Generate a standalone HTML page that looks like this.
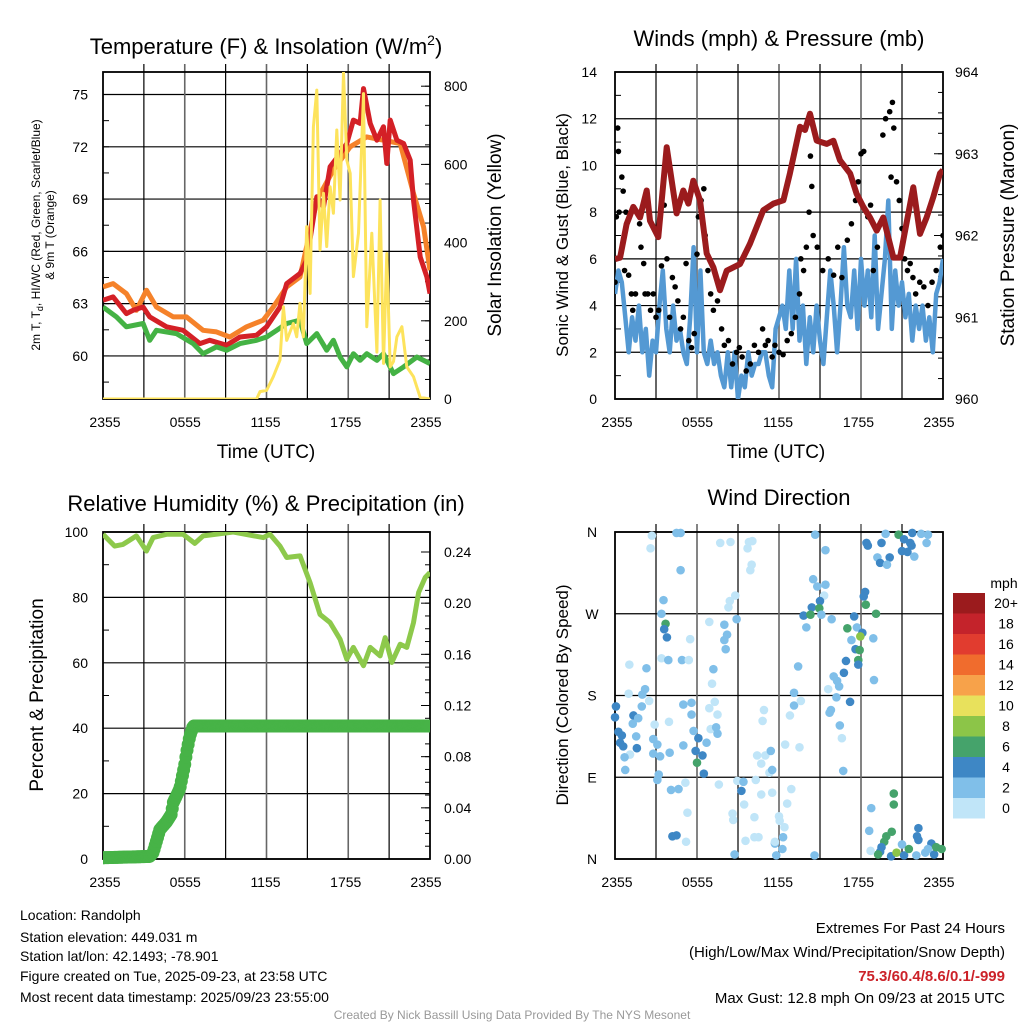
<!DOCTYPE html>
<html><head><meta charset="utf-8"><style>
html,body{margin:0;padding:0;background:#fff}
svg{display:block;font-family:"Liberation Sans",sans-serif}
</style></head><body>
<svg id="chart" width="1024" height="1024" viewBox="0 0 1024 1024" xmlns="http://www.w3.org/2000/svg">
<defs>
<clipPath id="c1"><rect x="103" y="72" width="327" height="327"/></clipPath>
<clipPath id="c2"><rect x="615" y="72" width="328" height="327"/></clipPath>
<clipPath id="c3"><rect x="103" y="532" width="327" height="340"/></clipPath>
<clipPath id="c4"><rect x="608" y="525" width="342" height="341"/></clipPath>
</defs>
<g id="g1"></g>
<g id="g2"></g>
<g id="g3"></g>
<g id="g4"></g>

<text x="266" y="54" font-size="22" text-anchor="middle">Temperature (F) &amp; Insolation (W/m<tspan dy="-9" font-size="14">2</tspan><tspan dy="9">)</tspan></text>
<text x="779" y="46" font-size="22" text-anchor="middle">Winds (mph) &amp; Pressure (mb)</text>
<text x="266" y="511" font-size="22" text-anchor="middle">Relative Humidity (%) &amp; Precipitation (in)</text>
<text x="779" y="505" font-size="22" text-anchor="middle">Wind Direction</text>

<text x="266" y="458" font-size="19" text-anchor="middle">Time (UTC)</text>
<text x="776" y="458" font-size="19" text-anchor="middle">Time (UTC)</text>

<text transform="translate(40,235) rotate(-90)" font-size="12" text-anchor="middle">2m T, T<tspan font-size="9" dy="3">d</tspan><tspan dy="-3">, HI/WC (Red, Green, Scarlet/Blue)</tspan></text>
<text transform="translate(54,235) rotate(-90)" font-size="12" text-anchor="middle">&amp; 9m T (Orange)</text>
<text transform="translate(501,235) rotate(-90)" font-size="19" text-anchor="middle">Solar Insolation (Yellow)</text>
<text transform="translate(568,235) rotate(-90)" font-size="17" text-anchor="middle">Sonic Wind &amp; Gust (Blue, Black)</text>
<text transform="translate(1014,235) rotate(-90)" font-size="19" text-anchor="middle">Station Pressure (Maroon)</text>
<text transform="translate(43,695) rotate(-90)" font-size="19" text-anchor="middle">Percent &amp; Precipitation</text>
<text transform="translate(568,695) rotate(-90)" font-size="17" text-anchor="middle">Direction (Colored By Speed)</text>

<g font-size="14">
<text x="20" y="920">Location: Randolph</text>
<text x="20" y="942">Station elevation: 449.031 m</text>
<text x="20" y="961">Station lat/lon: 42.1493; -78.901</text>
<text x="20" y="981">Figure created on Tue, 2025-09-23, at 23:58 UTC</text>
<text x="20" y="1002">Most recent data timestamp: 2025/09/23 23:55:00</text>
</g>
<g font-size="15" text-anchor="end">
<text x="1005" y="933">Extremes For Past 24 Hours</text>
<text x="1005" y="957">(High/Low/Max Wind/Precipitation/Snow Depth)</text>
<text x="1005" y="981" fill="#cc2229" font-weight="bold">75.3/60.4/8.6/0.1/-999</text>
<text x="1005" y="1003">Max Gust: 12.8 mph On 09/23 at 2015 UTC</text>
</g>
<text x="512" y="1019" font-size="12" fill="#999" text-anchor="middle">Created By Nick Bassill Using Data Provided By The NYS Mesonet</text>
</svg>
<script>
// ---------- Panel 1 data ----------
const redHours=[0,0.74,1.72,2.21,2.94,3.43,4.66,5.88,7.11,7.84,9.07,10.05,11.27,12.01,12.99,13.48,14.46,14.95,15.69,16.18,16.67,17.4,17.89,18.38,18.87,19.12,19.61,20.1,20.59,20.83,21.08,21.57,22.06,22.55,22.79,23.28,23.77,24];
const redTemp=[63.2,63.39,62.43,62.62,62.81,62.24,61.67,61.47,60.71,60.9,60.61,61.09,61.19,61.67,62.81,64.15,64.73,65.49,69.13,68.55,70.85,71.61,72.19,73.53,73.34,75.34,73.34,72.38,73.15,71.04,73.53,72.38,72.19,71.23,68.94,65.68,64.53,63.58];
const orangeHours=[0,0.74,1.72,2.45,3.19,3.92,5.15,6.13,7.35,8.33,9.31,10.54,11.76,12.5,13.48,14.46,15.69,16.91,18.14,19.36,20.59,21.81,22.79,23.53,24];
const orangeTemp=[63.96,64.15,63.58,62.62,63.77,62.81,62.24,62.24,61.47,61.38,61.09,61.67,62.05,62.81,63.96,64.53,68.94,70.66,72,72.57,72.38,72.19,69.32,67.4,64.92];
const greenHours=[0,0.98,1.72,2.94,3.43,3.92,5.39,6.62,7.35,8.33,9.07,10.05,11.27,12.01,12.75,13.48,14.46,14.95,15.69,16.42,16.91,17.4,17.89,18.38,18.87,19.36,20.1,20.59,21.32,22.06,23.04,24];
const greenDew=[62.81,62.24,61.67,61.86,60.9,61.47,61.28,60.71,60.13,60.52,60.33,60.71,60.9,61.09,61.47,61.86,62.05,60.71,61.28,60.33,60.9,59.94,59.37,60.13,59.75,60.13,59.75,60.13,58.99,59.37,59.94,59.56];
const insHours=[0,11.27,11.52,12.01,12.5,12.99,13.24,13.48,13.97,14.22,14.46,14.71,14.95,15.2,15.44,15.69,15.93,16.18,16.42,16.67,16.91,17.16,17.4,17.65,17.89,18.14,18.38,18.75,19.12,19.36,19.73,20.1,20.34,20.59,20.83,21.08,21.32,21.57,21.94,22.3,22.79,23.28,24];
const insValue=[0,0,19,22,57,100,236,150,193,159,245,159,441,270,696,790,381,526,390,543,475,688,509,835,611,577,313,424,781,185,424,120,509,91,372,82,96,159,185,82,57,4,0];
const tempTicks=[60,63,66,69,72,75];
const insTicks=[0,200,400,600,800];
const timeTicks=["2355","0555","1155","1755","2355"];
// ---------- Panel 2 data ----------
const windHours=[];for(let i=0;i<=96;i++)windHours.push(i*0.25);
const windSpeed=[4.5,5.5,5,3.5,2,3.5,2.5,4,2,3,1,2.5,2,4,5.5,3,2,4,2.5,3,2,1.5,3.5,6.5,2,5.5,2,1.5,2.5,1.5,2,1,0.5,2,0.5,2,0,1,0.5,2,1,1.5,1.5,2,2,1,0.5,3,3.5,4,3,5.5,3,6,2.5,4,1.5,3.5,2,4,2.5,1.5,3.5,5.5,4,2,4,6.5,4,3.5,5.5,3,6,4,5.5,3.5,7,3,4.5,6,8.5,3,5.5,4,5,3.5,4.5,2.5,4,3,4,2.5,3.5,2,4.5,5,6];
const gustHours=[0,0.1,0.2,0.25,0.3,0.5,0.6,0.7,0.8,1,1.2,1.3,1.5,1.8,1.9,2.1,2.2,2.4,2.6,2.8,3,3.2,3.4,3.6,3.8,4,4.2,4.4,4.6,4.8,5,5.2,5.4,5.6,5.8,6,6.1,6.3,6.5,6.6,6.8,7,7.2,7.5,7.8,8,8.3,8.6,8.9,9.1,9.3,9.6,9.9,10.2,10.5,10.8,11,11.2,11.5,11.7,12,12.3,12.6,12.9,13.2,13.5,13.6,13.8,14,14.2,14.4,14.3,14.5,14.8,15.2,15.6,16,16.3,16.6,17,17.3,17.6,17.8,18,18.2,18.5,18.7,18.9,19.2,19.6,19.8,20.1,20.3,20.4,20.2,20.6,20.8,21,21.2,21.4,21.6,21.8,22,22.3,22.6,22.9,23.2,23.5,23.8,24];
const gustSpeed=[5,7.8,11.6,10.6,8,9.5,8.9,5.5,8,5.3,4.5,3.8,4.5,7.5,6.5,5.8,4.5,4.5,3.8,4.5,3.5,3.8,5.7,8.3,6,3.5,5.2,4.8,4.2,3,3.5,5.8,2.5,2.2,2.8,6.2,7.8,8.5,9,7,5.5,4.5,3.8,4.2,3,2.3,2.5,1.5,2,2.2,1.8,1.2,1.5,2.3,2,3,2.3,2.5,1.8,2.3,2,1.9,2.5,2.8,3.5,4.5,6,5.5,6.5,8,9.1,10.4,7,6.5,5.5,6,5.3,6.5,5.2,6.8,7.5,8.5,9.3,10.5,10.6,7.8,8.3,5.5,6.5,11.3,12,12.3,12.7,11.6,9.5,9.3,8.5,7.3,6,5.5,5.8,5.2,4.5,5,4.8,4,5,5.5,6.5,7];
const presHours=[0,0.37,0.85,1.34,1.83,2.32,2.56,3.17,3.78,4.51,5.0,5.37,5.73,6.22,6.71,7.2,7.68,8.17,9.15,9.88,10.85,11.59,12.32,12.8,13.54,13.9,14.27,14.76,15.49,15.98,16.46,17.2,17.68,18.17,18.66,19.15,19.63,20.37,20.85,21.83,22.32,22.8,23.29,23.78,24];
const presValue=[961.71,961.73,962.14,962.35,962.22,962.55,962.18,961.98,963.08,962.27,962.55,962.39,962.67,962.43,961.78,961.61,961.33,961.57,961.65,961.9,962.31,962.39,962.43,962.76,963.33,963.29,963.49,963.16,963.12,963.16,962.92,962.76,962.51,962.35,962.22,962.06,962.22,961.73,961.73,962.59,962.02,962.22,962.47,962.76,962.8];
const windTicks=[0,2,4,6,8,10,12,14];
const presTicks=[960,961,962,963,964];
// ---------- Panel 3 data ----------
const rhHours=[0,0.86,1.47,2.45,3.19,3.68,4.66,5.88,6.74,7.35,9.56,11.76,12.25,12.99,13.48,14.46,15.2,15.93,16.67,17.4,17.89,18.38,19.12,19.61,20.34,20.71,21.2,21.81,22.3,22.79,23.16,23.65,24];
const rhValue=[99.3,95.7,96.2,98.8,94.2,98.3,99.3,99.3,96.5,98.8,100,98.3,99.3,95.7,92.2,92.7,84.5,74.8,72.3,67.2,61.1,64.7,59.1,64.7,62.1,67.7,60.1,65.7,64.7,72.3,81.5,86.1,87.6];
const precipHours=[0,3.43,3.68,4.17,4.66,5.02,5.15,5.64,6.0,6.13,6.37,6.62,24];
const precipValue=[0.001,0.002,0.005,0.023,0.029,0.035,0.044,0.055,0.074,0.083,0.096,0.104,0.104];
const rhTicks=[0,20,40,60,80,100];
const precipTicks=["0.00","0.04","0.08","0.12","0.16","0.20","0.24"];
// ---------- Panel 4 data ----------
const wdHours=[
2.7,2.6,4.5,4.8,4.8,3.55,3.4,3.7,3.6,3.8,
5.5,3.4,3.9,4.9,5.4,1.05,2.3,2.2,1.0,2.0,
2.5,0.07,1.96,0,1.35,1.7,1.3,2.9,0.25,0.5,
1.55,0.37,0.6,1.6,1.1,0.7,0.75,2.8,3.1,2.8,
3.3,4.0,5.0,5.0,5.6,5.6,3.95,5.75,6.1,6.7,
5.9,6.4,6.0,6.5,3.2,3.1,4.1,4.65,5.15,5.3,
4.2,4.5,5.2,6.9,7.3,7.5,7.0,7.4,7.5,7.1,
7.2,8.1,8.0,8.2,8.0,6.9,8.9,8.3,8.4,8.8,
9.9,10.0,9.7,9.8,10.05,7.7,8.45,7.6,8.95,9.4,
9.25,10.3,10.7,11.5,9.45,8.6,8.65,10.2,9.55,10.2,
10.5,8.75,10.4,11.0,10.7,11.4,11.3,11.5,10.9,10.8,
12.45,13.5,12.9,12.6,12.0,12.05,12.4,12.3,11.7,11.7,
12.25,11.8,14.6,12.8,13.1,13.6,13.1,13.4,14.65,15.4,
14.5,14.8,15.4,15.3,15.0,14.4,14.95,13.8,14.3,14.0,
15.1,15.85,17.5,17.0,17.7,18.1,17.95,17.3,18.9,17.6,
17.9,16.9,17.8,17.8,16.75,16.0,16.25,16.4,15.6,16.2,
17.2,15.8,15.7,16.45,16.6,16.7,18.95,18.3,18.2,18.35,
19.1,18.4,18.5,19.5,19.8,20.75,21.15,21.75,22.4,22.9,
22.8,21.6,21.7,21.0,21.4,21.9,20.1,19.2,19.4,19.9,
18.75,20.4,20.4,18.6,20.25,19.85,19.7,19.5,19.4,19.25,
18.7,20.2,20.6,21.15,21.0,21.5,22.2,22.1,22.2,22.7,
23.15,23.35,23.5,23.9,22.9,22.05];
const wdDir=[
356,342,359,359,318,285,270,259,253,244,
242,221,219,219,219,214,210,187,182,181,
174,168,168,156,158,155,149,148,140,136,
135,128,124,122,115,112,98,132,126,116,
113,117,125,170,172,159,151,141,133,128,
119,114,106,94,93,87,76,77,84,51,
25,26,19,166,173,159,143,145,138,193,
209,231,241,247,258,261,264,277,284,290,
318,324,342,349,350,348,349,82,86,85,
75,87,71,73,60,50,43,46,20,24,
24,5,114,114,105,119,95,98,164,152,
126,123,77,61,47,42,35,24,17,19,
11,4,4,158,169,174,183,212,357,340,
308,300,302,290,284,277,276,268,269,255,
269,264,267,254,255,249,245,241,243,231,
230,218,219,214,205,201,196,190,187,178,
173,164,161,147,133,97,197,294,289,280,
270,348,345,348,358,357,352,359,358,357,
348,348,345,339,338,333,332,332,326,324,
56,72,60,31,30,25,19,13,8,5,
9,3,7,4,16,11,34,25,21,7,
17,5,13,11,11,4];
const wdSpeed=[
0.5,0.5,2,2,2,2,2,6,4,4,
0.5,0.5,2,2,0.5,0.5,2,2,0.5,2,
0.5,4,2,4,4,2,2,0.5,4,4,
2,4,4,4,0.5,2,2,2,2,2,
2,2,2,2,2,2,0.5,2,4,2,
4,4,6,4,2,2,2,2,0.5,0.5,
4,4,0.5,0.5,0.5,0.5,0.5,2,2,0.5,
2,2,2,2,2,0.5,2,0.5,0.5,0.5,
0.5,0.5,0.5,0.5,0.5,0.5,0.5,0.5,0.5,2,
4,0.5,0.5,0.5,0.5,0.5,0.5,0.5,0.5,0.5,
0.5,2,0.5,0.5,0.5,2,0.5,2,0.5,0.5,
0.5,0.5,0.5,0.5,0.5,0.5,0.5,2,2,0.5,
2,2,2,0.5,2,0.5,2,2,2,2,
2,2,2,0.5,4,4,6,4,6,2,
2,2,4,6,2,4,8,2,2,4,
6,4,6,4,4,2,2,2,0.5,2,
4,2,2,2,0.5,2,2,4,4,6,
6,4,4,4,2,6,4,4,2,2,
2,4,4,4,4,2,4,2,4,2,
2,6,6,2,6,6,6,4,4,6,
0.5,4,8,4,2,6,4,4,4,2,
4,4,6,6,2,2];
const dirTicks=["N","E","S","W","N"];
const speedBins=["0","2","4","6","8","10","12","14","16","18","20+"];
const speedColors=["#c0e5f8","#80bfe9","#3e87c5","#45a36b","#8cc548","#e8e15c","#f7a24a","#f06c2d","#e13c2f","#c4232b","#9b1b1d"];

const NS="http://www.w3.org/2000/svg";
function mk(parent,tag,attrs){const e=document.createElementNS(NS,tag);for(const k in attrs)e.setAttribute(k,attrs[k]);parent.appendChild(e);return e;}
function pathD(xs,ys,fx,fy){let d="";for(let i=0;i<xs.length;i++)d+=(i?"L":"M")+fx(xs[i]).toFixed(1)+","+fy(ys[i]).toFixed(1);return d;}
function interp(xs,ys,x){for(let i=1;i<xs.length;i++){if(x<=xs[i]){const t=(x-xs[i-1])/(xs[i]-xs[i-1]||1);return ys[i-1]+t*(ys[i]-ys[i-1]);}}return ys[ys.length-1];}

function frame(g,L,T,W,H,xs,name){
  for(let i=1;i<8;i++){const x=L+W*i/8;
    const l=mk(g,"line",{x1:x,y1:T-8,x2:x,y2:T+H,stroke:i%2?"#000":"#666","stroke-width":i%2?1.2:1.6});
    
    }
  const r=mk(g,"rect",{x:L,y:T,width:W,height:H,fill:"none",stroke:"#000","stroke-width":1.8});
  
  
  for(let i=0;i<5;i++){
    const t=mk(g,"text",{x:L+2+(W-6)*i/4,y:T+H+28,"font-size":14,"text-anchor":"middle"});
    t.textContent=timeTicks[i];
    
    }
}
function hgrid(g,L,W,y){const l=mk(g,"line",{x1:L,y1:y,x2:L+W,y2:y,stroke:"#000","stroke-width":1.2});
  
  }
function ylabel(g,x,y,txt,anchor){const t=mk(g,"text",{x:x,y:y+5,"font-size":14,"text-anchor":anchor});t.textContent=txt;
  
  }
function rtick(g,x,y,len){mk(g,"line",{x1:x,y1:y,x2:x+len,y2:y,stroke:"#000","stroke-width":1});}

// ===== Panel 1 =====
(function(){
 const g=document.getElementById("g1");const L=103,T=72,W=327,H=327;
 const X=h=>L+h*W/24, YT=t=>94.5+(75-t)*17.43, YI=v=>399-v*0.391;
 tempTicks.forEach(t=>{hgrid(g,L,W,YT(t));ylabel(g,88,YT(t),t,"end");});
 for(let t=58.5;t<76.5;t+=1.5)rtick(g,L,YT(t),6);
 insTicks.forEach(v=>{ylabel(g,444,YI(v),v,"start");rtick(g,L+W,YI(v),-9);});
 for(let v=50;v<840;v+=50)rtick(g,L+W,YI(v),-5);
 frame(g,L,T,W,H,null,"temperature");
 const c=mk(g,"g",{"clip-path":"url(#c1)"});
 const s=[["orange",orangeHours,orangeTemp,YT,"#f5822a",5],["red",redHours,redTemp,YT,"#d42026",5],["dewpoint",greenHours,greenDew,YT,"#44b244",5],["insolation",insHours,insValue,YI,"#fde35c",3]];
 s.forEach(a=>{const p=mk(c,"path",{d:pathD(a[1],a[2],X,a[3]),fill:"none",stroke:a[4],"stroke-width":a[5],"stroke-linejoin":"round"});
   
   });
})();
// ===== Panel 2 =====
(function(){
 const g=document.getElementById("g2");const L=615,T=72,W=328,H=327;
 const X=h=>L+h*W/24, YW=w=>399-w*H/14, YP=p=>399-(p-960)*H/4;
 windTicks.forEach(w=>{hgrid(g,L,W,YW(w));ylabel(g,597,YW(w),w,"end");});
 for(let w=1;w<14;w+=2)rtick(g,L,YW(w),6);
 presTicks.forEach(p=>{ylabel(g,955,YP(p),p,"start");rtick(g,L+W,YP(p),-9);});
 for(let p=960.25;p<964;p+=0.25)rtick(g,L+W,YP(p),-5);
 frame(g,L,T,W,H,null,"winds");
 const c=mk(g,"g",{"clip-path":"url(#c2)"});
 const b=mk(c,"path",{d:pathD(windHours,windSpeed,X,YW),fill:"none",stroke:"#5499d3","stroke-width":4.5,"stroke-linejoin":"round"});
 
 
 gustHours.forEach((h,i)=>{const d=mk(c,"circle",{cx:X(h),cy:YW(gustSpeed[i]),r:2.8,fill:"#000"});
   
   });
 const p=mk(c,"path",{d:pathD(presHours,presValue,X,YP),fill:"none",stroke:"#9b1b1d","stroke-width":6,"stroke-linejoin":"round"});
 
 
})();
// ===== Panel 3 =====
(function(){
 const g=document.getElementById("g3");const L=103,T=532,W=327,H=327;
 const X=h=>L+h*W/24, YR=v=>859-v*H/100, YP=p=>859-p*307/0.24;
 rhTicks.forEach(v=>{hgrid(g,L,W,YR(v));ylabel(g,88,YR(v),v,"end");});
 for(let v=10;v<100;v+=20)rtick(g,L,YR(v),6);
 precipTicks.forEach(s=>{const v=parseFloat(s);ylabel(g,444,YP(v),s,"start");rtick(g,L+W,YP(v),-9);});
 for(let v=0.01;v<0.25;v+=0.01)rtick(g,L+W,YP(v),-5);
 frame(g,L,T,W,H,null,"humidity");
 const c=mk(g,"g",{"clip-path":"url(#c3)"});
 const r=mk(c,"path",{d:pathD(rhHours,rhValue,X,YR),fill:"none",stroke:"#8dc94b","stroke-width":5,"stroke-linejoin":"round"});
 
 
 for(let h=0;h<=24.001;h+=1/12){const v=interp(precipHours,precipValue,h);
   const d=mk(c,"circle",{cx:X(h),cy:YP(v),r:6.5,fill:"#47b347"});
   
   }
})();
// ===== Panel 4 =====
(function(){
 const g=document.getElementById("g4");const L=615,T=532,W=328,H=327;
 const X=h=>L+h*W/24, YD=d=>859-d*H/360;
 dirTicks.forEach((s,i)=>{hgrid(g,L,W,YD(i*90));ylabel(g,592,YD(i*90),s,"middle");});
 frame(g,L,T,W,H,null,"wind-direction");
 const c=mk(g,"g",{"clip-path":"url(#c4)"});
 wdHours.forEach((h,i)=>{const sp=wdSpeed[i];const k=Math.min(10,Math.max(0,Math.round(sp/2)));
   const d=mk(c,"circle",{cx:X(h),cy:YD(wdDir[i]),r:4.3,fill:speedColors[k]});
   
   });
 const leg=mk(document.getElementById("chart"),"g",{});
 
 
 const u=mk(leg,"text",{x:1004,y:588,"font-size":14,"text-anchor":"middle"});u.textContent="mph";
 
 
 speedBins.forEach((s,i)=>{const y=798-i*20.5;
   const b=mk(leg,"rect",{x:953,y:y,width:32,height:20.5,fill:speedColors[i]});
   
   
   const t=mk(leg,"text",{x:1006,y:y+15,"font-size":14,"text-anchor":"middle"});t.textContent=s;
   
   });
})();
</script>
</body></html>
